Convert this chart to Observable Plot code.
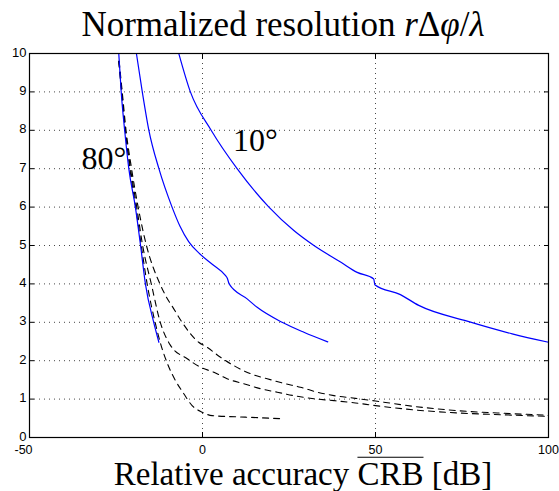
<!DOCTYPE html>
<html><head><meta charset="utf-8">
<script src="https://cdn.jsdelivr.net/npm/d3@7"></script>
<script src="https://cdn.jsdelivr.net/npm/@observablehq/plot@0.6"></script>
<style>
body{margin:0;background:#fff}
#wrap{position:relative;width:559px;height:491px}
.serif{font-family:"Liberation Serif","DejaVu Serif",serif !important}
</style>
</head><body><div id="wrap"></div>
<script>
// ---- data ----
const xTicks = [0, 50, 100];
const xTickFirst = [-50];
const yTicks = [0, 1, 2, 3, 4, 5, 6, 7, 8, 9, 10];
const tickMarksX = [-50, 0, 50, 100];
const gridXTicks = [0, 50];
const gridYTicks = [1, 2, 3, 4, 5, 6, 7, 8, 9];

// solid blue curves
const blue80X = [-24.2, -23.5, -22.5, -21.3, -19.4, -17.9, -16.5, -14.1, -12.6];
const blue80Y = [10, 9, 8, 7, 6, 5, 4, 3, 2.48];

const blueMidX = [-19.1, -17.4, -15.5, -12.6, -8.8, -6.5, -4.0, -1.0, 3.0, 6.6, 7.2, 7.7, 12.9, 15.8, 23.0, 29.3, 36.2];
const blueMidY = [10, 9, 8, 7, 6, 5.5, 5.1, 4.8, 4.5, 4.22, 4.14, 4.0, 3.61, 3.39, 3.0, 2.74, 2.49];

const blue10X = [-6.85, -3.5, 2.5, 10.0, 19.2, 26.4, 32.2, 39.9, 44.7, 49.5, 49.8, 57.2, 62.5, 76.5, 89.5, 100];
const blue10Y = [10, 9, 8, 7, 6, 5.39, 5.0, 4.57, 4.30, 4.13, 3.98, 3.72, 3.44, 3.03, 2.70, 2.48];

// dashed black curves
const dashAX = [-24.2, -23.4, -22.3, -21.0, -19.3, -17.7, -16.0, -13.7, -12.1, -9.7, -7.8, -5.4, -3.0, -0.1, 2.8, 12.4, 23.0];
const dashAY = [9.8, 9, 8, 7, 6, 5, 4, 3, 2.44, 1.83, 1.48, 1.14, 0.83, 0.66, 0.57, 0.53, 0.49];

const dashBX = [-24.2, -23.3, -22.3, -20.8, -19.0, -17.3, -14.8, -12.2, -9.25, -4.4, -0.6, 3.3, 7.1, 11.9, 16.8, 21.6, 26.4, 32.2, 38.0, 44.2, 50, 61.1, 73.6, 87.1, 100];
const dashBY = [9.8, 9, 8, 7, 6, 5, 4, 3, 2.40, 2.05, 1.83, 1.70, 1.53, 1.40, 1.27, 1.18, 1.09, 1.01, 0.96, 0.90, 0.83, 0.72, 0.64, 0.59, 0.55];

const dashCX = [-24.1, -23.2, -22.1, -20.5, -18.6, -16.2, -12.3, -10.7, -8.3, -5.9, -1.1, 1.3, 5.2, 9.0, 13.9, 18.7, 23.5, 28.3, 33.2, 38.0, 44.2, 50, 61.1, 73.6, 87.1, 100];
const dashCY = [9.8, 9, 8, 7, 6, 5, 4, 3.7, 3.35, 3.0, 2.48, 2.35, 2.09, 1.875, 1.66, 1.53, 1.41, 1.31, 1.18, 1.09, 1.02, 0.95, 0.81, 0.70, 0.63, 0.58];

const labelText = ["80°", "10°"];
const labelX = [-28.5, 15.3];
const labelY = [7.25, 7.72];

// ---- build rows ----
const curves = [
  {name: "blue80", kind: "solid", xs: blue80X, ys: blue80Y},
  {name: "blueMid", kind: "solid", xs: blueMidX, ys: blueMidY},
  {name: "blue10", kind: "solid", xs: blue10X, ys: blue10Y},
  {name: "dashA", kind: "dashed", xs: dashAX, ys: dashAY},
  {name: "dashB", kind: "dashed", xs: dashBX, ys: dashBY},
  {name: "dashC", kind: "dashed", xs: dashCX, ys: dashCY}
];
const rows = curves.flatMap(c => c.xs.map((x, i) => ({curve: c.name, kind: c.kind, x, y: c.ys[i]})));
const solid = rows.filter(d => d.kind === "solid");
const dashed = rows.filter(d => d.kind === "dashed");
const labels = labelText.map((t, i) => ({t, x: labelX[i], y: labelY[i]}));

const gridStyle = {stroke: "#333", strokeOpacity: 0.9, strokeWidth: 1, strokeDasharray: "1,4"};
const noText = () => "";
const plain = d => String(d);

const chart = Plot.plot({
  width: 559,
  height: 491,
  marginLeft: 29,
  marginRight: 11,
  marginTop: 53,
  marginBottom: 54,
  style: {fontFamily: "'Liberation Sans', Arial, sans-serif", background: "#fff", overflow: "visible"},
  x: {domain: [-50, 100], axis: null},
  y: {domain: [0, 10], axis: null},
  marks: [
    Plot.gridY(gridYTicks, gridStyle),
    Plot.gridX(gridXTicks, gridStyle),
    Plot.line(dashed, {x: "x", y: "y", z: "curve", stroke: "#000", strokeWidth: 1.1, strokeDasharray: "6,5", curve: "monotone-x"}),
    Plot.line(solid, {x: "x", y: "y", z: "curve", stroke: "#0000ff", strokeWidth: 1.2, curve: "monotone-x"}),
    Plot.frame({stroke: "#000", strokeWidth: 1.2}),
    Plot.axisY(yTicks, {anchor: "left", tickSize: 5, dx: 5, tickFormat: noText, label: null, stroke: "#000"}),
    Plot.axisY(yTicks, {anchor: "right", tickSize: 5, dx: -5, tickFormat: noText, label: null, stroke: "#000"}),
    Plot.axisX(tickMarksX, {anchor: "bottom", tickSize: 5, dy: -5, tickFormat: noText, label: null, stroke: "#000"}),
    Plot.axisX(tickMarksX, {anchor: "top", tickSize: 5, dy: 5, tickFormat: noText, label: null, stroke: "#000"}),
    Plot.axisY(yTicks, {anchor: "left", tickSize: 0, tickPadding: 3, dy: -1, fontSize: 13, tickFormat: plain, label: null, color: "#000"}),
    Plot.axisX(xTicks, {anchor: "bottom", tickSize: 0, tickPadding: 8, fontSize: 12.5, tickFormat: plain, label: null, color: "#000"}),
    Plot.axisX(xTickFirst, {anchor: "bottom", tickSize: 0, tickPadding: 8, dx: -6, fontSize: 12.5, tickFormat: plain, label: null, color: "#000"}),
    Plot.text(labels, {x: "x", y: "y", text: "t", fontSize: 32, className: "serif", fill: "#000"})
  ]
});

const svg = d3.select(chart);
// title
const title = svg.append("text")
  .attr("class", "serif")
  .attr("x", 283).attr("y", 36)
  .attr("text-anchor", "middle")
  .attr("font-size", 35).attr("fill", "#000");
title.append("tspan").text("Normalized resolution ");
title.append("tspan").attr("font-style", "italic").text("r");
title.append("tspan").text("Δ");
title.append("tspan").attr("font-style", "italic").text("φ");
title.append("tspan").text("/");
title.append("tspan").attr("font-style", "italic").text("λ");

// x label
const xlPre = "Relative accuracy ";
const xlBar = "CRB";
const xlPost = " [dB]";
const xlY = 485, xlSize = 33;
const xl = svg.append("text")
  .attr("class", "serif")
  .attr("x", 303).attr("y", xlY)
  .attr("text-anchor", "middle")
  .attr("font-size", xlSize).attr("fill", "#000");
xl.append("tspan").text(xlPre);
xl.append("tspan").text(xlBar);
xl.append("tspan").text(xlPost);

document.getElementById("wrap").appendChild(chart);

// thin overline above "CRB", measured from the rendered text
try {
  const node = xl.node();
  const i0 = xlPre.length, i1 = xlPre.length + xlBar.length - 1;
  const xa = node.getStartPositionOfChar(i0).x;
  const xb = node.getEndPositionOfChar(i1).x;
  const yBar = xlY - xlSize * 0.72 - 4;
  svg.append("line")
    .attr("x1", xa).attr("x2", xb)
    .attr("y1", yBar).attr("y2", yBar)
    .attr("stroke", "#000").attr("stroke-width", 1.2);
} catch (e) {}
</script>
</body></html>
